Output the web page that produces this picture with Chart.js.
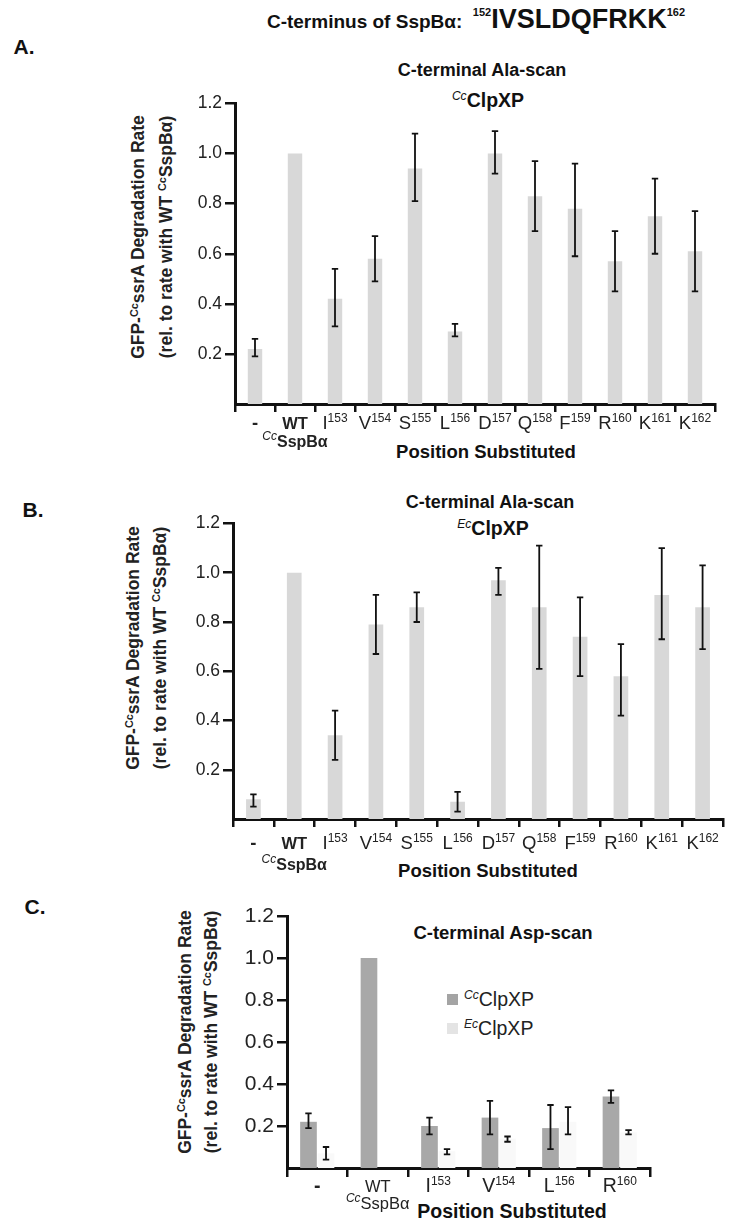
<!DOCTYPE html>
<html>
<head>
<meta charset="utf-8">
<script src="https://cdn.jsdelivr.net/npm/chart.js@4.4.1/dist/chart.umd.min.js"></script>
<style>
  body { margin: 0; background: #fff; }
  #page { position: relative; width: 735px; height: 1222px; overflow: hidden; font-family: "Liberation Sans", Arial, sans-serif; color: #111; }
  .t { position: absolute; white-space: nowrap; transform: translate(-50%, -50%); }
  .ylab { position: absolute; white-space: nowrap; transform: translate(-50%, -50%) rotate(-90deg); font-weight: bold; font-size: 17.5px; color: #222; }
  .box { position: absolute; }
  sup { font-size: 62%; vertical-align: 0; position: relative; top: -0.6em; }
  sup.i { font-style: italic; font-weight: normal; }
  .panel { font-weight: bold; font-size: 21px; }
  .ptitle { font-weight: bold; font-size: 18px; }
  .xtitle { font-weight: bold; font-size: 18.5px; }
  .sw { display: inline-block; width: 11px; height: 11px; margin-right: 6px; vertical-align: 1px; }
</style>
</head>
<body>
<div id="page">
  <div class="t" style="left:476px; top:19px; font-weight:bold; font-size:19px;">C-terminus of SspBα:&nbsp; <sup style="font-size:11px;top:-1.1em">152</sup><span style="font-size:27px">IVSLDQFRKK</span><sup style="font-size:11px;top:-1.1em">162</sup></div>
  <div class="t panel" style="left:24px; top:47px;">A.</div>
  <div class="t panel" style="left:33px; top:510px;">B.</div>
  <div class="t panel" style="left:35px; top:907px;">C.</div>

  <div class="t ptitle" style="left:482px; top:70px;">C-terminal Ala-scan</div>
  <div class="t ptitle" style="left:488px; top:100px; font-size:19.5px;"><sup class="i">Cc</sup>ClpXP</div>
  <div class="t ptitle" style="left:490px; top:502px;">C-terminal Ala-scan</div>
  <div class="t ptitle" style="left:493px; top:528px; font-size:19.5px;"><sup class="i">Ec</sup>ClpXP</div>
  <div class="t ptitle" style="left:503px; top:933px; font-size:18.5px;">C-terminal Asp-scan</div>

  <div class="ylab" style="left:138px; top:237px;">GFP-<sup>Cc</sup>ssrA Degradation Rate</div>
  <div class="ylab" style="left:166px; top:237px;">(rel. to rate with WT <sup>Cc</sup>SspBα)</div>
  <div class="ylab" style="left:133px; top:648px;">GFP-<sup>Cc</sup>ssrA Degradation Rate</div>
  <div class="ylab" style="left:160px; top:648px;">(rel. to rate with WT <sup>Cc</sup>SspBα)</div>
  <div class="ylab" style="left:185px; top:1032px;">GFP-<sup>Cc</sup>ssrA Degradation Rate</div>
  <div class="ylab" style="left:211px; top:1032px;">(rel. to rate with WT <sup>Cc</sup>SspBα)</div>

  <div class="t xtitle" style="left:486px; top:452px;">Position Substituted</div>
  <div class="t xtitle" style="left:488px; top:871px;">Position Substituted</div>
  <div class="t xtitle" style="left:512px; top:1211px; font-size:19.5px;">Position Substituted</div>

  <div class="box" style="left:447px; top:986px; font-size:19.5px; line-height:26px; color:#222;">
    <div><span class="sw" style="background:#a4a4a4"></span><sup class="i">Cc</sup>ClpXP</div>
    <div><span class="sw" style="background:#e4e4e4"></span><sup class="i">Ec</sup>ClpXP</div>
  </div>

  <div class="box" style="left:180px; top:90px; width:550px; height:375px;"><canvas id="chartA"></canvas></div>
  <div class="box" style="left:180px; top:510px; width:555px; height:375px;"><canvas id="chartB"></canvas></div>
  <div class="box" style="left:230px; top:900px; width:440px; height:322px;"><canvas id="chartC"></canvas></div>
</div>

<script>
// Ala-scan categories (panels A and B)
const alaResidues = ['-', 'WT', 'I', 'V', 'S', 'L', 'D', 'Q', 'F', 'R', 'K', 'K'];
const alaPositions = ['', '', '153', '154', '155', '156', '157', '158', '159', '160', '161', '162'];

// A: CcClpXP, relative rate, with error bar ends
const ccAlaRate = [0.22, 1.00, 0.42, 0.58, 0.94, 0.29, 1.00, 0.83, 0.78, 0.57, 0.75, 0.61];
const ccAlaLow  = [0.19, null, 0.31, 0.49, 0.81, 0.27, 0.92, 0.69, 0.59, 0.45, 0.60, 0.45];
const ccAlaHigh = [0.26, null, 0.54, 0.67, 1.08, 0.32, 1.09, 0.97, 0.96, 0.69, 0.90, 0.77];

// B: EcClpXP
const ecAlaRate = [0.08, 1.00, 0.34, 0.79, 0.86, 0.07, 0.97, 0.86, 0.74, 0.58, 0.91, 0.86];
const ecAlaLow  = [0.05, null, 0.24, 0.67, 0.80, 0.03, 0.91, 0.61, 0.58, 0.42, 0.73, 0.69];
const ecAlaHigh = [0.10, null, 0.44, 0.91, 0.92, 0.11, 1.02, 1.11, 0.90, 0.71, 1.10, 1.03];

// C: Asp-scan, both proteases
const aspResidues = ['-', 'WT', 'I', 'V', 'L', 'R'];
const aspPositions = ['', '', '153', '154', '156', '160'];
const ccAspRate = [0.22, 1.00, 0.20, 0.24, 0.19, 0.34];
const ccAspLow  = [0.19, null, 0.16, 0.16, 0.09, 0.31];
const ccAspHigh = [0.26, null, 0.24, 0.32, 0.30, 0.37];
const ecAspRate = [0.07, null, 0.08, 0.14, 0.22, 0.17];
const ecAspLow  = [0.04, null, 0.065, 0.125, 0.16, 0.16];
const ecAspHigh = [0.10, null, 0.09, 0.15, 0.29, 0.18];

const yTicks = [0.2, 0.4, 0.6, 0.8, 1.0, 1.2];

Chart.defaults.font.family = '"Liberation Sans", Arial, sans-serif';
Chart.defaults.animation = false;

/** Draw a run of text pieces (with superscripts) centred on cx. */
function drawRich(ctx, parts, cx, y) {
    let w = 0;
    parts.forEach(p => { ctx.font = p.font; p.w = ctx.measureText(p.t).width; w += p.w; });
    let x = cx - w / 2;
    ctx.textAlign = 'left';
    ctx.textBaseline = 'alphabetic';
    parts.forEach(p => { ctx.font = p.font; ctx.fillText(p.t, x, y + (p.dy || 0)); x += p.w; });
}

const errorBars = {
    id: 'errorBars',
    afterDatasetsDraw(chart) {
        const ctx = chart.ctx;
        const y = chart.scales.y;
        chart.data.datasets.forEach((ds, di) => {
            if (!ds.errLow) return;
            const meta = chart.getDatasetMeta(di);
            meta.data.forEach((bar, i) => {
                const lo = ds.errLow[i], hi = ds.errHigh[i];
                if (lo == null || hi == null) return;
                const x = bar.x, y1 = y.getPixelForValue(lo), y2 = y.getPixelForValue(hi);
                const cap = 3.2;
                ctx.save();
                ctx.strokeStyle = '#111';
                ctx.lineWidth = 1.8;
                ctx.beginPath();
                ctx.moveTo(x, y1); ctx.lineTo(x, y2);
                ctx.moveTo(x - cap, y1); ctx.lineTo(x + cap, y1);
                ctx.moveTo(x - cap, y2); ctx.lineTo(x + cap, y2);
                ctx.stroke();
                ctx.restore();
            });
        });
    }
};

const xLabels = {
    id: 'xLabels',
    afterDraw(chart, args, opts) {
        const ctx = chart.ctx;
        const xs = chart.scales.x;
        const base = chart.chartArea.bottom;
        ctx.save();
        ctx.fillStyle = '#222';
        opts.residues.forEach((r, i) => {
            const cx = xs.getPixelForValue(i);
            let parts;
            if (r === 'WT') {
                parts = [{ t: 'WT', font: opts.wtFont }];
            } else if (opts.positions[i]) {
                parts = [{ t: r, font: opts.font }, { t: opts.positions[i], font: opts.supFont, dy: -opts.supRise }];
            } else {
                parts = [{ t: r, font: 'bold ' + opts.font }];
            }
            drawRich(ctx, parts, cx, base + opts.dy);
            if (r === 'WT') {
                drawRich(ctx, [
                    { t: 'Cc', font: 'italic ' + opts.subSupFont, dy: -opts.supRise },
                    { t: 'SspBα', font: opts.subFont }
                ], cx, base + opts.subDy);
            }
        });
        ctx.restore();
    }
};

function yScale(width, fontSize, tickLen) {
    return {
        min: 0, max: 1.2,
        border: { color: '#111', width: 3 },
        grid: { drawOnChartArea: false, tickLength: tickLen, color: '#111', lineWidth: 2.5 },
        afterBuildTicks: s => { s.ticks = yTicks.map(v => ({ value: v })); },
        ticks: { padding: 3, color: '#222', font: { size: fontSize }, callback: v => v.toFixed(1) },
        afterFit: s => { s.width = width; }
    };
}

function xScale(height, tickLen) {
    return {
        border: { color: '#111', width: 3 },
        grid: { drawOnChartArea: false, offset: true, tickLength: tickLen, color: '#111', lineWidth: 2.5 },
        ticks: { display: false },
        afterFit: s => { s.height = height; }
    };
}

function alaChart(id, rate, low, high, yWidth, xHeight, padRight, labelDy, subDy) {
    return new Chart(document.getElementById(id), {
        type: 'bar',
        data: {
            labels: alaResidues,
            datasets: [{
                data: rate, errLow: low, errHigh: high,
                backgroundColor: '#d8d8d8',
                barPercentage: 0.36, categoryPercentage: 1
            }]
        },
        options: {
            responsive: true, maintainAspectRatio: false,
            layout: { padding: { top: 12, right: padRight, left: 0, bottom: 0 } },
            plugins: {
                legend: { display: false }, tooltip: { enabled: false },
                xLabels: {
                    residues: alaResidues, positions: alaPositions,
                    font: '18.5px "Liberation Sans"', supFont: '12px "Liberation Sans"', supRise: 7,
                    wtFont: 'bold 16.5px "Liberation Sans"',
                    subFont: 'bold 16px "Liberation Sans"', subSupFont: '12px "Liberation Sans"',
                    dy: labelDy, subDy: subDy
                }
            },
            scales: { x: xScale(xHeight, 8), y: yScale(yWidth, 17.5, 10) }
        },
        plugins: [errorBars, xLabels]
    });
}

alaChart('chartA', ccAlaRate, ccAlaLow, ccAlaHigh, 55, 61, 15, 25, 43);
alaChart('chartB', ecAlaRate, ecAlaLow, ecAlaHigh, 53, 66, 12, 30, 51);

new Chart(document.getElementById('chartC'), {
    type: 'bar',
    data: {
        labels: aspResidues,
        datasets: [
            { label: 'CcClpXP', data: ccAspRate, errLow: ccAspLow, errHigh: ccAspHigh,
              backgroundColor: '#a8a8a8', barPercentage: 0.95, categoryPercentage: 0.58 },
            { label: 'EcClpXP', data: ecAspRate, errLow: ecAspLow, errHigh: ecAspHigh,
              backgroundColor: '#f9f9f9', barPercentage: 0.95, categoryPercentage: 0.58 }
        ]
    },
    options: {
        responsive: true, maintainAspectRatio: false,
        layout: { padding: { top: 16, right: 20, left: 0, bottom: 0 } },
        plugins: {
            legend: { display: false }, tooltip: { enabled: false },
            xLabels: {
                residues: aspResidues, positions: aspPositions,
                font: '19.5px "Liberation Sans"', supFont: '12px "Liberation Sans"', supRise: 7,
                wtFont: '16.5px "Liberation Sans"',
                subFont: '16.5px "Liberation Sans"', subSupFont: '12px "Liberation Sans"',
                dy: 24, subDy: 41
            }
        },
        scales: { x: xScale(54, 9), y: yScale(57, 21, 10) }
    },
    plugins: [errorBars, xLabels]
});
</script>
</body>
</html>
